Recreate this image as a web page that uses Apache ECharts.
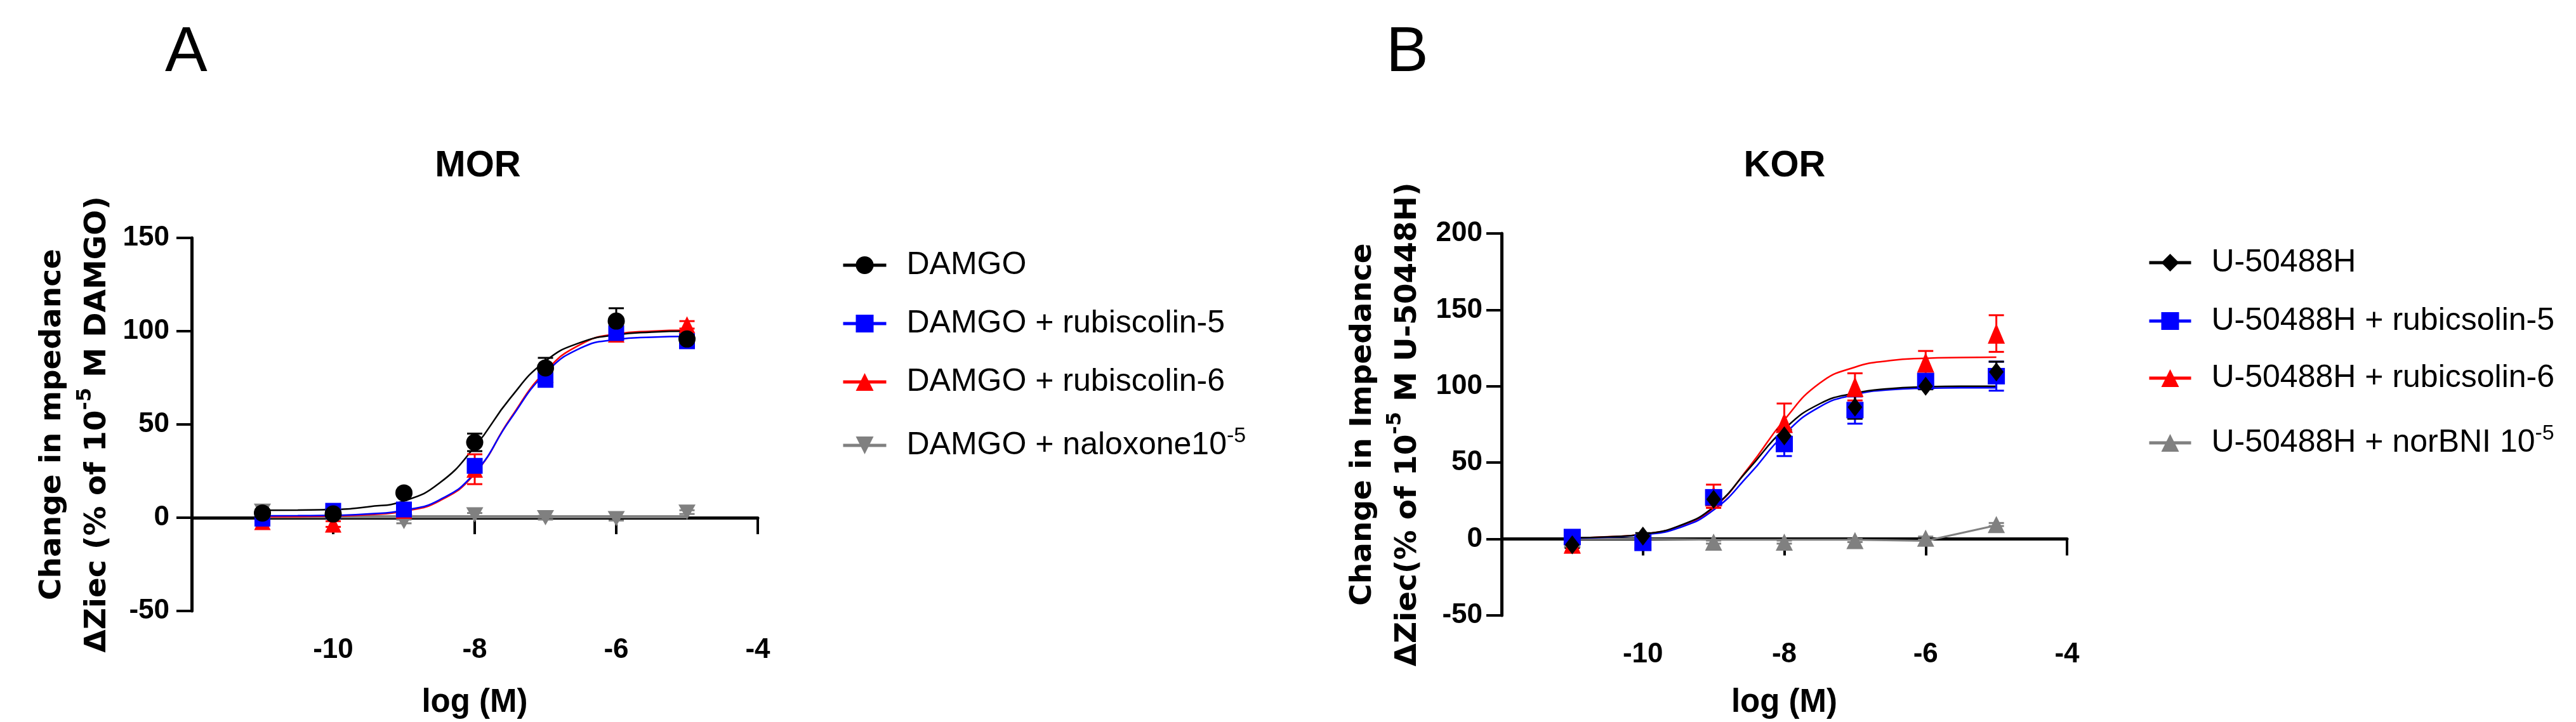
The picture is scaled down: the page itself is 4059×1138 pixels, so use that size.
<!DOCTYPE html>
<html><head><meta charset="utf-8">
<script src="https://cdn.jsdelivr.net/npm/echarts@6/dist/echarts.min.js"></script>
<style>html,body{margin:0;padding:0;background:#fff}#c{width:4059px;height:1138px}</style>
</head><body><div id="c"></div>
<script>
// ---------- data ----------
const doseX = [-11, -10, -9, -8, -7, -6, -5];
const fitX = [-11, -10.5, -10, -9.5, -9, -8.5, -8, -7.5, -7, -6.5, -6, -5.5, -5];
const xTickLabels = ['-10', '-8', '-6', '-4'];
const yTicksA = [-50, 0, 50, 100, 150];
const yTicksB = [-50, 0, 50, 100, 150, 200];

// Panel A: MOR
const morNames = ['DAMGO', 'DAMGO + rubiscolin-5', 'DAMGO + rubiscolin-6', 'DAMGO + naloxone10-5'];
const morDamgo = [2.5, 2, 13.3, 40.4, 80.3, 105.4, 95.8];
const morDamgoSem = [1.5, 1.5, 1.5, 4.7, 5.4, 6.9, 2];
const morRub5 = [-0.5, 3.7, 4.4, 27.8, 73.9, 99, 94.6];
const morRub5Sem = [1, 1.5, 1.5, 3, 3, 3, 2];
const morRub6 = [-2, -3.4, 4, 26, 77, 98.5, 103.4];
const morRub6Sem = [1, 1.5, 1, 8, 3, 2, 2];
const morNal = [3.5, 1, -2, 1.5, 0, -0.5, 3];
const morNalSem = [1, 1, 1, 1, 1, 1, 1];
const morDamgoFit = [4, 4.1, 4.4, 5.9, 9, 18.5, 38, 64, 84, 94, 98, 99.5, 100];
const morRub5Fit = [1, 1.1, 1.3, 2, 4, 9.5, 24, 52.5, 77.5, 91, 95.5, 96.8, 97.2];
const morRub6Fit = [0.5, 0.6, 0.9, 1.6, 3.5, 9, 23.6, 53, 78.5, 93, 98.5, 100, 100.5];
const morNalFit = [0.5, 0.5, 0.5, 0.5, 0.5, 0.5, 0.5, 0.5, 0.5, 0.5, 0.5, 0.5, 0.5];

// Panel B: KOR
const korNames = ['U-50488H', 'U-50488H + rubicsolin-5', 'U-50488H + rubicsolin-6', 'U-50488H + norBNI 10-5'];
const korU50 = [-3.8, 1.9, 26, 67.5, 86.3, 100, 109.4];
const korU50Sem = [2, 2, 3, 4, 7.6, 2, 6.7];
const korRub5 = [1.3, -2.5, 27.3, 62.2, 84.4, 103.4, 106.6];
const korRub5Sem = [2, 2, 4, 7.9, 8.9, 3, 9.5];
const korRub6 = [-3, 0, 28, 76, 99.6, 115.5, 134.5];
const korRub6Sem = [1.5, 1.5, 7.6, 12.7, 8.9, 7.6, 12];
const korNor = [0, 0, -2, -2, -1, 0.6, 9.5];
const korNorSem = [1, 1, 1, 1, 1, 1, 1];
const korU50Fit = [0.8, 1.4, 3.2, 8.4, 21, 46, 72, 88.5, 95.5, 98.5, 99.6, 100, 100];
const korRub5Fit = [0.6, 1.2, 2.8, 7.2, 19, 42, 68.5, 86.5, 94.5, 97.7, 98.7, 99, 99];
const korRub6Fit = [0.6, 1.5, 3.2, 8.2, 20.5, 47, 78, 102, 112.5, 116.8, 118.3, 118.8, 119];
const korNorLineX = [-11, -10, -9, -8, -7, -6, -5];
const korNorLine = [0, 0, -0.5, -0.5, -0.5, -1.2, 9];

// ---------- styles ----------
const BLACK = '#000000', BLUE = '#0000ff', RED = '#ff0000', GREY = '#808080';
const FONT = "'Liberation Sans', Arial, sans-serif";
const TITLE_FONT = "'DejaVu Sans', sans-serif";

function pairs(xs, ys) { return xs.map((x, i) => [x, ys[i]]); }
function triples(xs, ys, es) { return xs.map((x, i) => [x, ys[i], es[i]]); }

function errRender(color) {
  return function (params, api) {
    const x = api.value(0), y = api.value(1), e = api.value(2);
    const t = api.coord([x, y + e]);
    const b = api.coord([x, y - e]);
    const cw = 12;
    const st = { stroke: color, lineWidth: 3 };
    return { type: 'group', children: [
      { type: 'line', shape: { x1: t[0], y1: t[1], x2: b[0], y2: b[1] }, style: st },
      { type: 'line', shape: { x1: t[0] - cw, y1: t[1], x2: t[0] + cw, y2: t[1] }, style: st },
      { type: 'line', shape: { x1: b[0] - cw, y1: b[1], x2: b[0] + cw, y2: b[1] }, style: st }
    ]};
  };
}

function curve(name, gi, xs, ys, color, symbol, rot, width, smooth) {
  return {
    name: name, type: 'line', xAxisIndex: gi, yAxisIndex: gi,
    data: pairs(xs, ys), smooth: smooth ? 0.5 : false,
    symbol: symbol, symbolRotate: rot || 0, showSymbol: false,
    color: color, lineStyle: { color: color, width: width }, itemStyle: { color: color },
    z: 2, silent: true
  };
}
function errs(name, gi, ys, es, color) {
  return {
    name: name + ' err', type: 'custom', xAxisIndex: gi, yAxisIndex: gi,
    data: triples(doseX, ys, es), encode: { x: 0, y: 1 },
    renderItem: errRender(color), z: 3, silent: true
  };
}
function pts(name, gi, ys, color, symbol, size, rot) {
  return {
    name: name + ' pts', type: 'scatter', xAxisIndex: gi, yAxisIndex: gi,
    data: pairs(doseX, ys), symbol: symbol, symbolSize: size, symbolRotate: rot || 0,
    itemStyle: { color: color, opacity: 1 }, z: 4, silent: true
  };
}

function xAxisCfg(gi, gap) {
  return {
    type: 'value', gridIndex: gi, min: -12, max: -4, interval: 2,
    axisLine: { show: true, onZero: true, lineStyle: { color: '#000', width: 5 } },
    axisTick: { show: true, length: 26, lineStyle: { color: '#000', width: 4 } },
    axisLabel: {
      margin: 40, fontSize: 44, fontWeight: 'bold', color: '#000', fontFamily: FONT,
      formatter: v => xTickLabels.indexOf(String(v)) >= 0 ? String(v) : ''
    },
    splitLine: { show: false },
    name: 'log (M)', nameLocation: 'middle', nameGap: gap,
    nameTextStyle: { fontSize: 51, fontWeight: 'bold', color: '#000', fontFamily: FONT }
  };
}
function yAxisCfg(gi, ticks, name, gap, margin) {
  return {
    type: 'value', gridIndex: gi, min: ticks[0], max: ticks[ticks.length - 1], interval: 50,
    axisLine: { show: true, onZero: false, lineStyle: { color: '#000', width: 5 } },
    axisTick: { show: true, length: 24, lineStyle: { color: '#000', width: 4 } },
    axisLabel: { margin: margin, fontSize: 44, fontWeight: 'bold', color: '#000', fontFamily: FONT,
      formatter: v => ticks.indexOf(v) >= 0 ? String(v) : '' },
    splitLine: { show: false },
    name: name, nameLocation: 'middle', nameRotate: 90, nameGap: gap,
    nameTextStyle: {
      fontSize: 47, fontWeight: 'bold', color: '#000', fontFamily: TITLE_FONT, lineHeight: 71,
      rich: { sup: { fontSize: 32, lineHeight: 34, verticalAlign: 'top', fontWeight: 'bold', color: '#000', fontFamily: TITLE_FONT } }
    }
  };
}

function legendItem(name, left, centerY, iw) {
  return {
    data: [name], left: left, top: centerY - 31, orient: 'horizontal', padding: 0,
    itemWidth: iw, itemHeight: 35, selectedMode: false,
    lineStyle: { width: 5 },
    formatter: n => n.replace(/10-5$/, '10{sup|-5}'),
    textStyle: {
      fontSize: 50, lineHeight: 62, color: '#000', fontFamily: FONT, padding: [0, 0, 0, 27],
      rich: { sup: { fontSize: 34, lineHeight: 36, verticalAlign: 'top', color: '#000', fontFamily: FONT } }
    }
  };
}

const option = {
  animation: false,
  backgroundColor: '#ffffff',
  title: [
    { text: 'A', left: 260, top: 34, padding: 0, textStyle: { fontSize: 100, fontWeight: 'normal', color: '#000', fontFamily: FONT } },
    { text: 'B', left: 2184, top: 34, padding: 0, textStyle: { fontSize: 100, fontWeight: 'normal', color: '#000', fontFamily: FONT } },
    { text: 'MOR', left: 753, top: 233, padding: 0, textAlign: 'center', textStyle: { fontSize: 58, fontWeight: 'bold', color: '#000', fontFamily: FONT } },
    { text: 'KOR', left: 2812, top: 233, padding: 0, textAlign: 'center', textStyle: { fontSize: 58, fontWeight: 'bold', color: '#000', fontFamily: FONT } }
  ],
  grid: [
    { left: 302, top: 375, width: 892, height: 680 },
    { left: 2366, top: 368, width: 891, height: 668 }
  ],
  xAxis: [xAxisCfg(0, 119), xAxisCfg(1, 112)],
  yAxis: [
    yAxisCfg(0, yTicksA, 'Change in mpedance\nΔZiec (% of 10{sup|-5} M DAMGO)', 110, 35),
    yAxisCfg(1, yTicksB, 'Change in Impedance\nΔZiec(% of 10{sup|-5} M U-50448H)', 112, 30)
  ],
  legend: [
    legendItem(morNames[0], 1326, 418, 68),
    legendItem(morNames[1], 1326, 510, 68),
    legendItem(morNames[2], 1326, 602, 68),
    legendItem(morNames[3], 1326, 702, 68),
    legendItem(korNames[0], 3384, 414, 66),
    legendItem(korNames[1], 3384, 506, 66),
    legendItem(korNames[2], 3384, 596, 66),
    legendItem(korNames[3], 3384, 698, 66)
  ],
  series: [
    curve(morNames[3], 0, fitX, morNalFit, GREY, 'triangle', 180, 5, false),
    curve(morNames[2], 0, fitX, morRub6Fit, RED, 'triangle', 0, 2.5, true),
    curve(morNames[1], 0, fitX, morRub5Fit, BLUE, 'rect', 0, 2.5, true),
    curve(morNames[0], 0, fitX, morDamgoFit, BLACK, 'circle', 0, 2.5, true),
    errs(morNames[3], 0, morNal, morNalSem, GREY),
    errs(morNames[2], 0, morRub6, morRub6Sem, RED),
    errs(morNames[1], 0, morRub5, morRub5Sem, BLUE),
    errs(morNames[0], 0, morDamgo, morDamgoSem, BLACK),
    pts(morNames[3], 0, morNal, GREY, 'triangle', [27, 24], 180),
    pts(morNames[2], 0, morRub6, RED, 'triangle', [26, 27]),
    pts(morNames[1], 0, morRub5, BLUE, 'rect', 25),
    pts(morNames[0], 0, morDamgo, BLACK, 'circle', 27),
    curve(korNames[3], 1, korNorLineX, korNorLine, GREY, 'triangle', 0, 3, false),
    curve(korNames[2], 1, fitX, korRub6Fit, RED, 'triangle', 0, 2.5, true),
    curve(korNames[1], 1, fitX, korRub5Fit, BLUE, 'rect', 0, 2.5, true),
    curve(korNames[0], 1, fitX, korU50Fit, BLACK, 'diamond', 0, 2.5, true),
    errs(korNames[3], 1, korNor, korNorSem, GREY),
    errs(korNames[2], 1, korRub6, korRub6Sem, RED),
    errs(korNames[1], 1, korRub5, korRub5Sem, BLUE),
    errs(korNames[0], 1, korU50, korU50Sem, BLACK),
    pts(korNames[3], 1, korNor, GREY, 'triangle', [27, 27]),
    pts(korNames[2], 1, korRub6, RED, 'triangle', [27, 32]),
    pts(korNames[1], 1, korRub5, BLUE, 'rect', [27, 26]),
    pts(korNames[0], 1, korU50, BLACK, 'diamond', [23, 30])
  ]
};

const chart = echarts.init(document.getElementById('c'), null, { renderer: 'canvas' });
chart.setOption(option);
</script>
</body></html>
